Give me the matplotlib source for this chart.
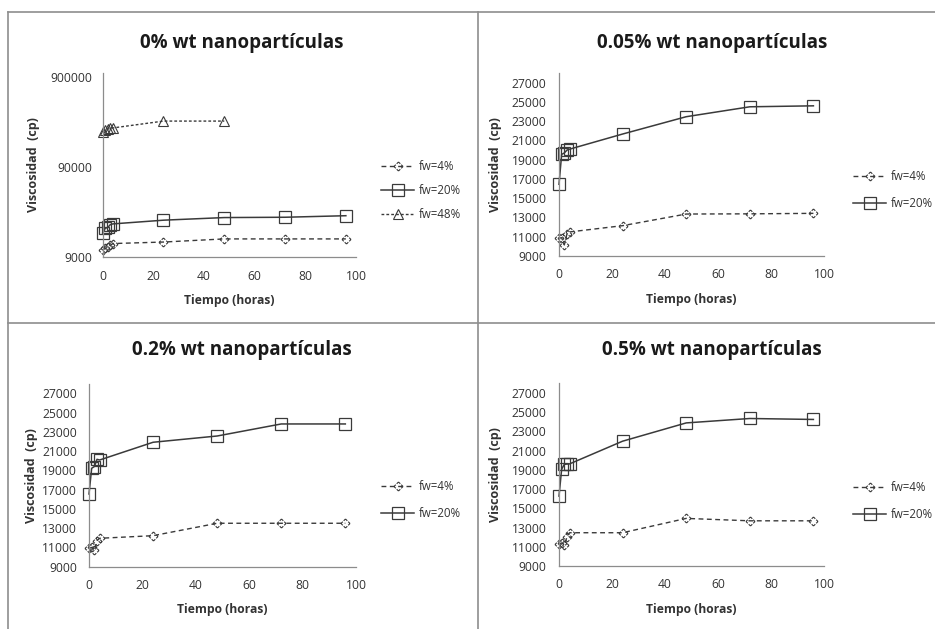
import numpy as np
import matplotlib
matplotlib.use("Agg")
import matplotlib.pyplot as plt
from matplotlib.path import Path
from matplotlib.lines import Line2D
from matplotlib.transforms import blended_transform_factory

# ---------------- data ----------------
time_h = [0, 1, 2, 3, 4, 24, 48, 72, 96]
time_h48 = [0, 1, 2, 3, 4, 24, 48]

titles = ["0% wt nanopartículas", "0.05% wt nanopartículas",
          "0.2% wt nanopartículas", "0.5% wt nanopartículas"]

# 0% wt
p0_fw4 = [10800, 11200, 11600, 12100, 12700, 13200, 14300, 14300, 14300]
p0_fw20 = [16600, 18800, 19200, 20600, 21000, 23100, 24700, 24900, 25900]
p0_fw48 = [222000, 232000, 238000, 242000, 245000, 292000, 292000]

# 0.05% wt
p1_fw4 = [10850, 10900, 10150, 11300, 11500, 12150, 13360, 13380, 13430]
p1_fw20 = [16450, 19560, 19700, 20000, 20100, 21670, 23470, 24500, 24600]

# 0.2% wt
p2_fw4 = [10900, 11000, 10700, 11700, 11950, 12220, 13510, 13510, 13510]
p2_fw20 = [16550, 19220, 19400, 20150, 20080, 21920, 22570, 23820, 23820]

# 0.5% wt
p3_fw4 = [11280, 11400, 11200, 12000, 12460, 12460, 13950, 13700, 13700]
p3_fw20 = [16270, 19070, 19570, 19600, 19620, 21980, 23880, 24340, 24240]

lin_ticks = [9000, 11000, 13000, 15000, 17000, 19000, 21000, 23000, 25000, 27000]
log_ticks = [9000, 90000, 900000]
x_ticks = [0, 20, 40, 60, 80, 100]

# ---------------- style ----------------
W, H = 935, 629
fig = plt.figure(figsize=(W / 100, H / 100), dpi=100)
FONT = "Open Sans"
LINEC = "#3a3a3a"
AXC = "#8c8c8c"
BORDC = "#8e8e8e"
TXTC = "#333333"

# dashed diamond marker
pts = np.array([[0, 1], [1, 0], [0, -1], [-1, 0], [0, 1]], float)
verts, codes = [], []
for i in range(4):
    a, b = pts[i], pts[i + 1]
    for s0, s1 in [(0.0, 0.4), (0.6, 1.0)]:
        verts += [tuple(a + (b - a) * s0), tuple(a + (b - a) * s1)]
        codes += [Path.MOVETO, Path.LINETO]
dash_diamond = Path(verts, codes)

sty4 = dict(color=LINEC, lw=1.0, ls=(0, (3.5, 2.5)), marker=dash_diamond,
            ms=6.5, mfc="none", mec=LINEC, mew=0.8, clip_on=False)
sty20 = dict(color=LINEC, lw=1.1, ls="-", marker="s", ms=8.5,
             mfc="none", mec=LINEC, mew=0.9, clip_on=False)
sty48 = dict(color=LINEC, lw=1.0, ls=(0, (2, 1.5)), marker="^", ms=6.5,
             mfc="none", mec=LINEC, mew=0.8, clip_on=False)


def add_ax(x0, x100, ytop, ybot):
    return fig.add_axes([x0 / W, 1 - ybot / H, (x100 - x0) / W, (ybot - ytop) / H])


def style_ax(ax, ypad, ylab_x):
    for s in ["top", "right"]:
        ax.spines[s].set_visible(False)
    for s in ["left", "bottom"]:
        ax.spines[s].set_color(AXC)
        ax.spines[s].set_linewidth(0.9)
    ax.set_xlim(0, 100)
    ax.set_xticks(x_ticks)
    ax.tick_params(axis="both", length=0, labelsize=8.7, colors=TXTC)
    ax.tick_params(axis="x", pad=9)
    ax.tick_params(axis="y", pad=ypad)
    for lab in ax.get_xticklabels() + ax.get_yticklabels():
        lab.set_family(FONT)
    ax.set_xlabel("Tiempo (horas)", fontsize=8.7, fontweight="bold",
                  family=FONT, color=TXTC, labelpad=8)
    ax.set_ylabel("Viscosidad  (cp)", fontsize=9, fontweight="bold",
                  family=FONT, color=TXTC)
    tr = blended_transform_factory(fig.transFigure, ax.transAxes)
    ax.yaxis.set_label_coords(ylab_x / W, 0.5, transform=tr)
    ax.yaxis.label.set_verticalalignment("center")
    ax.patch.set_alpha(0)


# panel layouts (pixel coordinates)
panels = [
    dict(x0=102.7, x100=356, ytop=73, ybot=257),
    dict(x0=559, x100=824, ytop=73.1, ybot=256),
    dict(x0=89, x100=356, ytop=383.7, ybot=566.7),
    dict(x0=559, x100=824, ytop=383.3, ybot=566),
]
series = [
    (p0_fw4, p0_fw20, p0_fw48),
    (p1_fw4, p1_fw20, None),
    (p2_fw4, p2_fw20, None),
    (p3_fw4, p3_fw20, None),
]
ypads = [7.5, 9.0, 8.5, 9.0]
ylab_xs = [33, 495, 32, 495]
title_pos = [(242, 43), (712, 43), (242, 350), (712, 350)]
legend_pos = [(381, 160), (853, 170), (381, 480), (853, 481)]
legend_sp = [0.95, 1.2, 1.2, 1.2]

for i, (pl, ser) in enumerate(zip(panels, series)):
    ax = add_ax(**pl)
    fw4, fw20, fw48 = ser
    ax.plot(time_h, fw4, label="fw=4%", **sty4)
    ax.plot(time_h, fw20, label="fw=20%", **sty20)
    if fw48 is not None:
        ax.plot(time_h48, fw48, label="fw=48%", **sty48)
        ax.set_yscale("log")
        ax.set_ylim(9000, 1000000)
        ax.set_yticks(log_ticks)
        ax.set_yticklabels([str(v) for v in log_ticks])
        ax.minorticks_off()
    else:
        ax.set_ylim(9000, 28000)
        ax.set_yticks(lin_ticks)
        ax.set_yticklabels([str(v) for v in lin_ticks])
    style_ax(ax, ypads[i], ylab_xs[i])
    leg = ax.legend(loc="upper left",
                    bbox_to_anchor=(legend_pos[i][0] / W, 1 - legend_pos[i][1] / H),
                    bbox_transform=fig.transFigure, frameon=False,
                    prop=dict(family=FONT, size=8.3), handlelength=2.9,
                    handletextpad=0.35, labelspacing=legend_sp[i],
                    borderaxespad=0, borderpad=0)
    for t in leg.get_texts():
        t.set_color(TXTC)
    tx, ty = title_pos[i]
    fig.text(tx / W, 1 - ty / H, titles[i], ha="center", va="center",
             fontsize=13.5, fontweight="bold", family=FONT, color="#1a1a1a")

# panel borders
def hline(y, x0, x1):
    fig.add_artist(Line2D([x0 / W, x1 / W], [1 - y / H, 1 - y / H],
                          color=BORDC, lw=1.2, transform=fig.transFigure))


def vline(x, y0, y1):
    fig.add_artist(Line2D([x / W, x / W], [1 - y0 / H, 1 - y1 / H],
                          color=BORDC, lw=1.2, transform=fig.transFigure))


hline(12.3, 8, W)
hline(323, 8, W)
vline(8.3, 12.3, H)
vline(478, 12.3, H)

fig.savefig("out.png", dpi=100, facecolor="white")
